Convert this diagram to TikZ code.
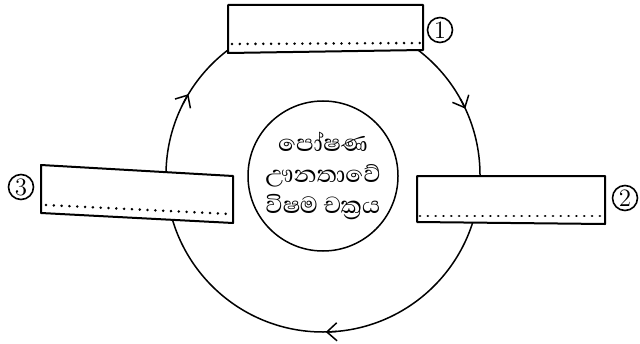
\documentclass[tikz,border=0pt]{standalone}
\usepackage{fontspec}
\newfontfamily\sinfont[Script=Sinhala]{Abhaya Libre}
\usetikzlibrary{arrows.meta,calc}
\begin{document}
\begin{tikzpicture}[x=0.5pt,y=0.5pt,
  boxline/.style={line width=1pt,fill=white,line join=round},
  dotline/.style={line width=1.4pt,line cap=round,dash pattern=on 0.01pt off 3.9pt},
  numc/.style={draw,circle,line width=0.8pt,minimum size=12.5pt,inner sep=0pt,font=\fontsize{12.5}{12.5}\selectfont},
  cyc/.style={line width=0.75pt},
  tip/.style={line width=0.75pt,-{Straight Barb[length=5pt,width=9pt]}}]
\useasboundingbox (0,0) rectangle (640,343);
% outer cycle
\coordinate (c) at (323,168);
\draw[cyc] (c) circle (157);
\draw[tip] ($(c)+(153:157)$) arc (153:149:157);
\draw[tip] ($(c)+(29:157)$) arc (29:25:157);
\draw[tip] ($(c)+(-85:157)$) arc (-85:-89:157);
% inner circle
\node[draw,circle,line width=0.75pt,minimum size=75pt,inner sep=0pt,align=center,
  font=\sinfont\fontsize{15}{15.5}\selectfont] (mid) at (323,167)
  {පෝෂණ\\ඌනතාවේ\\විෂම චක්^^^^200dරය};
% box 1
\draw[boxline] (228,338) -- (423,338) -- (423,293) -- (228,290) -- cycle;
\draw[dotline] (232,299) -- (420,300);
\node[numc] (n1) at (440,313) {1};
% box 3
\draw[boxline] (41,178) -- (233,167) -- (233,120) -- (41,130) -- cycle;
\draw[dotline] (46,138) -- (230,129);
\node[numc] (n3) at (21,156) {3};
% box 2
\draw[boxline] (417,167) -- (605,167) -- (605,119) -- (417,121) -- cycle;
\draw[dotline] (420,127) -- (602,127);
\node[numc] (n2) at (625,145) {2};
\end{tikzpicture}
\end{document}
